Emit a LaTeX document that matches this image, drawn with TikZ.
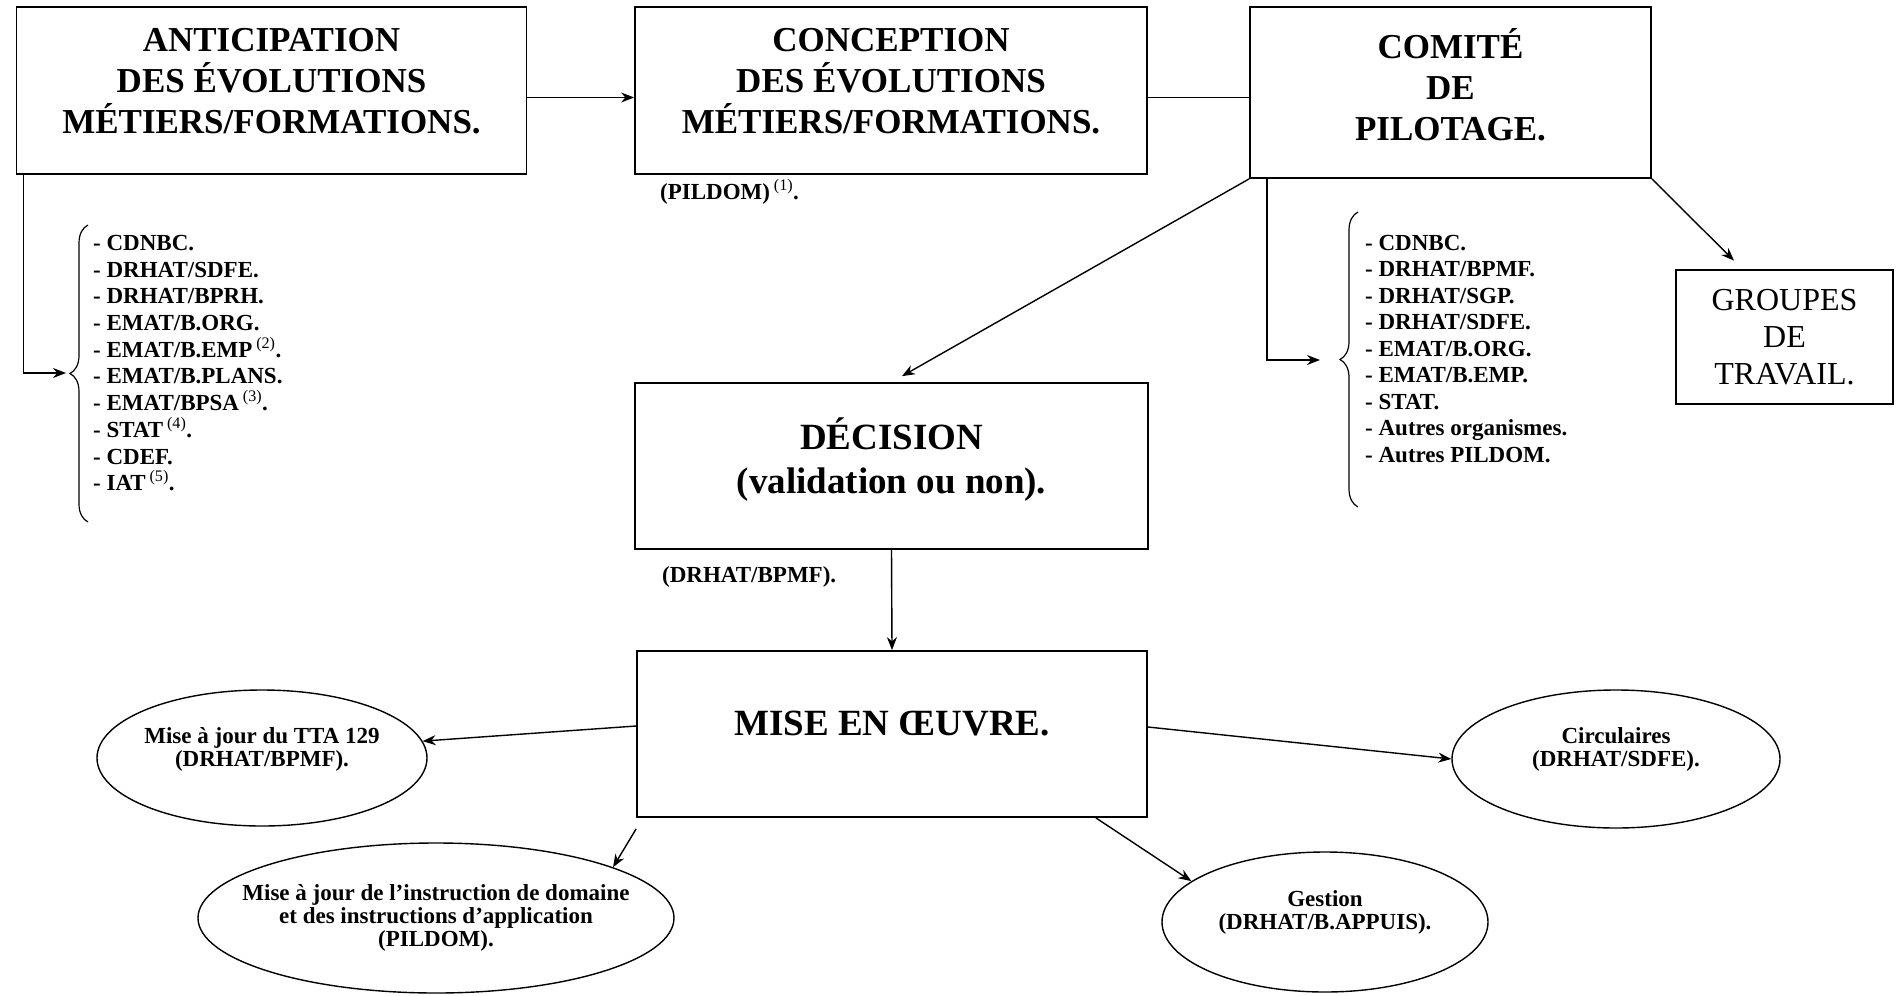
\documentclass[tikz,border=0pt]{standalone}
\usepackage{fontspec}
\setmainfont{Liberation Serif}
\usepackage{tikz}
\usetikzlibrary{shapes.geometric}
\usetikzlibrary{arrows.meta}
\usetikzlibrary{decorations.pathreplacing}

\newcommand{\renvoi}[1]{\,\textsuperscript{\mdseries(#1)}}

\tikzset{
  boite/.style={draw, line width=1.8pt, align=center, inner sep=0pt,
    font=\fontsize{35}{41}\selectfont\bfseries},
  bulle/.style={draw, ellipse, line width=1.4pt, align=center,
    inner xsep=-35pt, inner ysep=0pt,
    font=\fontsize{23}{23}\selectfont\bfseries},
  liste/.style={align=left, inner sep=0pt, anchor=north west,
    font=\fontsize{23}{26.7}\selectfont\bfseries},
  note/.style={inner sep=0pt, anchor=west,
    font=\fontsize{23}{26}\selectfont\bfseries},
  fleche/.style={-{Stealth[length=13pt,width=10pt]}, line width=1.4pt},
  trait/.style={line width=1.4pt},
  accolade/.style={decorate, decoration={brace, amplitude=18pt}, line width=1.2pt}
}

\begin{document}
\begin{tikzpicture}[x=1pt, y=-1pt]
  \useasboundingbox (0,0) rectangle (1901,996);

  % en haut
  \node[boite, text depth=20pt, minimum width=510pt, minimum height=167pt] (antic) at (271.5,90.5)
    {ANTICIPATION\\DES ÉVOLUTIONS\\MÉTIERS/FORMATIONS.};
  \node[boite, text depth=20pt, minimum width=512pt, minimum height=167pt] (concep) at (891,90.5)
    {CONCEPTION\\DES ÉVOLUTIONS\\MÉTIERS/FORMATIONS.};
  \node[boite, text depth=17pt, minimum width=401pt, minimum height=171pt] (comite) at (1450.5,92.5)
    {COMITÉ\\DE\\PILOTAGE.};
  \node[note] (pildom) at (660,192) {(PILDOM)\renvoi{1}.};

  % les deux listes
  \node[liste] (lgauche) at (93,235)
    {- CDNBC.\\- DRHAT/SDFE.\\- DRHAT/BPRH.\\- EMAT/B.ORG.\\- EMAT/B.EMP\renvoi{2}.\\
     - EMAT/B.PLANS.\\- EMAT/BPSA\renvoi{3}.\\- STAT\renvoi{4}.\\- CDEF.\\- IAT\renvoi{5}.};
  \draw[accolade] (88,522) -- (88,225);
  \coordinate (lpointe) at (66,373);

  \node[liste, font=\fontsize{23}{26.5}\selectfont\bfseries] (ldroite) at (1365,235)
    {- CDNBC.\\- DRHAT/BPMF.\\- DRHAT/SGP.\\- DRHAT/SDFE.\\- EMAT/B.ORG.\\- EMAT/B.EMP.\\
     - STAT.\\- Autres organismes.\\- Autres PILDOM.};
  \draw[accolade] (1358,507) -- (1358,212);
  \coordinate (rpointe) at (1320,360);

  \node[boite, font=\fontsize{32}{37}\selectfont, minimum width=217pt, minimum height=134pt]
    (groupes) at (1784.5,337) {GROUPES\\DE\\TRAVAIL.};

  % milieu
  \node[boite, font=\fontsize{37}{44}\selectfont\bfseries, text depth=20pt,
    minimum width=513pt, minimum height=166pt]
    (decision) at (891.5,466) {DÉCISION\\(validation ou non).};
  \node[note] (bpmf) at (662,577) {(DRHAT/BPMF).};
  \node[boite, font=\fontsize{37}{44}\selectfont\bfseries, text depth=22pt,
    minimum width=510pt, minimum height=166pt]
    (mise) at (892,734) {MISE EN ŒUVRE.};

  % en bas
  \node[bulle, minimum width=330pt, minimum height=136pt] (tta) at (262,758)
    {Mise à jour du TTA 129\\(DRHAT/BPMF).\\\mbox{}};
  \node[bulle, minimum width=476pt, minimum height=150pt] (instr) at (436,918)
    {Mise à jour de l’instruction de domaine\\et des instructions d’application\\(PILDOM).};
  \node[bulle, minimum width=328pt, minimum height=138pt] (circ) at (1616,759)
    {Circulaires\\(DRHAT/SDFE).\\\mbox{}};
  \node[bulle, minimum width=326pt, minimum height=140pt] (gestion) at (1325,922)
    {Gestion\\(DRHAT/B.APPUIS).\\\mbox{}};

  % liaisons
  \draw[fleche] ([yshift=-7pt]antic.east) -- ([yshift=-7pt]concep.west);
  \draw[trait] ([yshift=-7pt]concep.east) -- ([yshift=-5pt]comite.west);
  \draw[fleche] ([xshift=8pt]antic.south west) |- (lpointe);
  \draw[fleche] ([xshift=18pt]comite.south west) |- (rpointe);
  \draw[fleche, shorten >=12pt] (comite.south west) -- (decision.north);
  \draw[fleche, shorten >=12pt] (comite.south east) -- ([xshift=-42pt]groupes.north);
  \draw[fleche] (decision.south) -- (mise.north);
  \draw[fleche] ([yshift=8pt]mise.west) -- (tta.6);
  \draw[fleche] ([yshift=-11pt]mise.south west) -- (instr.16);
  \draw[fleche] ([yshift=7pt]mise.east) -- (circ.west);
  \draw[fleche] ([xshift=-52pt]mise.south east) -- (gestion.163);
\end{tikzpicture}
\end{document}
